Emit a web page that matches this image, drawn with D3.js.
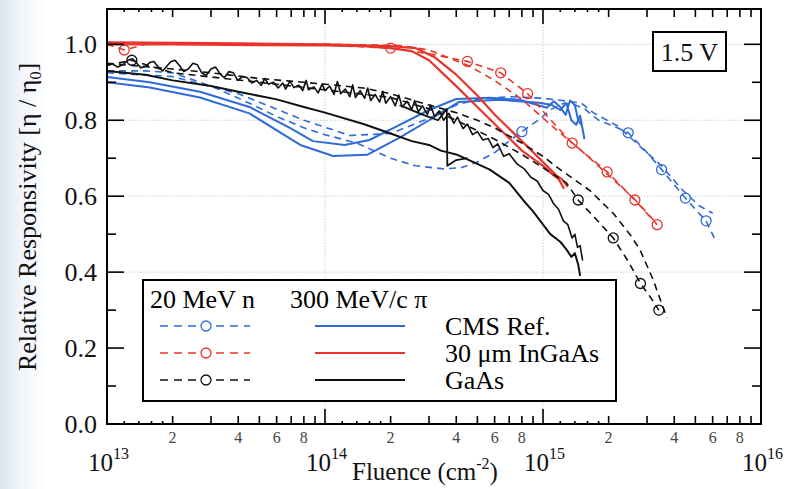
<!DOCTYPE html>
<html><head><meta charset="utf-8">
<script src="https://cdn.jsdelivr.net/npm/d3@7"></script>
<style>body{margin:0;background:#fff}svg{display:block}text{font-family:"Liberation Serif","DejaVu Serif",serif}</style>
</head><body>
<svg id="c" width="790" height="489"></svg>
<script>
// ---------------- DATA ----------------
const xDecades = [1e13, 1e14, 1e15, 1e16];
const xDecadeLabels = ["13", "14", "15", "16"];
const xMinorLabelMults = [2, 4, 6, 8];
const yMajorTicks = [0, 0.2, 0.4, 0.6, 0.8, 1.0];
const yMinorTicks = [0.1, 0.3, 0.5, 0.7, 0.9];
const yGrid = [0.4, 0.6, 0.8, 1.0];
const xGrid = [1e14, 1e15];

// 300 MeV/c pi, CMS Ref. (solid blue)
const blueSolidA = [[1e13,0.914],[1.57e13,0.900],[2.67e13,0.875],[4.5e13,0.835],[6.9e13,0.780],[8.8e13,0.745],[1.23e14,0.735],[1.6e14,0.748],[2.2e14,0.788],[3.0e14,0.827],[4.0e14,0.856],[5.7e14,0.859],[7.8e14,0.854],[1.04e15,0.833],[1.12e15,0.850],[1.2e15,0.835],[1.27e15,0.814],[1.33e15,0.852],[1.4e15,0.840],[1.45e15,0.800],[1.5e15,0.788]];
const blueSolidB = [[1e13,0.900],[1.57e13,0.886],[2.67e13,0.860],[4.5e13,0.818],[7.7e13,0.735],[1.09e14,0.706],[1.56e14,0.709],[2.2e14,0.754],[3.0e14,0.800],[4.1e14,0.848],[6.3e14,0.854],[9.6e14,0.846],[1.1e15,0.840],[1.2e15,0.827],[1.28e15,0.845],[1.35e15,0.800],[1.42e15,0.788],[1.48e15,0.812],[1.55e15,0.750]];
// 20 MeV n, CMS Ref. (dashed blue)
const blueDashA = [[1e13,0.930],[1.5e13,0.930],[2e13,0.925],[3e13,0.890],[4.5e13,0.845],[6e13,0.810],[8e13,0.780],[1e14,0.762],[1.4e14,0.740],[2e14,0.700],[2.6e14,0.680],[3.5e14,0.672],[4.2e14,0.675],[5e14,0.690],[6e14,0.715],[7e14,0.745],[8e14,0.770],[9.5e14,0.800],[1.1e15,0.830],[1.25e15,0.845],[1.4e15,0.840],[1.55e15,0.830],[1.8e15,0.800],[2.1e15,0.785],[2.46e15,0.767],[3e15,0.715],[3.5e15,0.670],[4e15,0.630],[4.5e15,0.595],[5.1e15,0.560],[5.6e15,0.535],[6.1e15,0.490]];
const blueDashAMarks = [8e14, 2.46e15, 3.5e15, 4.5e15, 5.6e15];
const blueDashB = [[1e13,0.925],[2e13,0.915],[4e13,0.870],[8e13,0.800],[1.3e14,0.760],[2e14,0.765],[3e14,0.805],[4e14,0.840],[5e14,0.855],[7e14,0.862],[1e15,0.858],[1.3e15,0.850],[1.5e15,0.845],[1.7e15,0.820],[2.2e15,0.785],[2.8e15,0.730],[3.5e15,0.680],[4.3e15,0.620],[5.2e15,0.575],[6.0e15,0.555]];

// 300 MeV/c pi, 30 um InGaAs (solid red)
const redSolidA = [[1e13,1.0],[2e13,1.0],[5e13,0.998],[1e14,0.997],[1.5e14,0.995],[2e14,0.990],[2.5e14,0.982],[3e14,0.958],[4e14,0.890],[5e14,0.835],[6e14,0.790],[8e14,0.720],[1e15,0.680],[1.12e15,0.655],[1.18e15,0.645],[1.22e15,0.630],[1.25e15,0.620]];
const redSolidB = [[1e13,1.005],[3e13,1.003],[1e14,1.0],[2e14,0.995],[2.6e14,0.990],[3.2e14,0.965],[4e14,0.920],[5e14,0.865],[6e14,0.815],[8e14,0.745],[1e15,0.690],[1.15e15,0.655],[1.22e15,0.645],[1.3e15,0.625]];
// 20 MeV n, 30 um InGaAs (dashed red)
const redDashA = [[1e13,1.0],[1.2e13,0.985],[1.5e13,1.0],[3e13,1.0],[6e13,1.0],[1e14,0.998],[2e14,0.990],[3e14,0.975],[4.5e14,0.955],[6.4e14,0.925],[8.5e14,0.870],[1.05e15,0.810],[1.36e15,0.740],[1.97e15,0.664],[2.64e15,0.590],[3.34e15,0.525]];
const redDashAMarks = [1.2e13, 2e14, 4.5e14, 6.4e14, 8.5e14, 1.36e15, 1.97e15, 2.64e15, 3.34e15];
const redDashB = [[1e13,1.005],[1e14,1.0],[2.2e14,0.997],[3e14,0.985],[4.5e14,0.945],[6e14,0.905],[8e14,0.855],[1.1e15,0.785],[1.5e15,0.720],[2e15,0.655],[2.6e15,0.595],[3.3e15,0.530]];

// 300 MeV/c pi, GaAs (solid black)
const blackSolidA = [[1.00e13,0.945],[1.06e13,0.948],[1.12e13,0.940],[1.18e13,0.946],[1.25e13,0.958],[1.31e13,0.962],[1.37e13,0.950],[1.43e13,0.938],[1.50e13,0.942],[1.57e13,0.952],[1.64e13,0.955],[1.72e13,0.940],[1.80e13,0.930],[1.88e13,0.942],[1.96e13,0.954],[2.05e13,0.958],[2.15e13,0.944],[2.25e13,0.928],[2.36e13,0.935],[2.48e13,0.950],[2.60e13,0.946],[2.72e13,0.925],[2.85e13,0.918],[3.00e13,0.935],[3.15e13,0.940],[3.30e13,0.922],[3.45e13,0.912],[3.62e13,0.928],[3.80e13,0.925],[3.98e13,0.905],[4.18e13,0.915],[4.40e13,0.912],[4.62e13,0.898],[4.85e13,0.905],[5.10e13,0.892],[5.30e13,0.910],[5.50e13,0.895],[5.80e13,0.900],[6.10e13,0.885],[6.40e13,0.898],[6.60e13,0.882],[6.90e13,0.903],[7.20e13,0.886],[7.60e13,0.892],[7.90e13,0.878],[8.20e13,0.905],[8.40e13,0.880],[8.90e13,0.888],[9.30e13,0.872],[9.70e13,0.895],[1.00e14,0.878],[1.05e14,0.890],[1.10e14,0.868],[1.14e14,0.902],[1.18e14,0.870],[1.24e14,0.882],[1.30e14,0.862],[1.34e14,0.893],[1.38e14,0.860],[1.45e14,0.878],[1.52e14,0.858],[1.57e14,0.885],[1.62e14,0.852],[1.70e14,0.868],[1.78e14,0.848],[1.84e14,0.876],[1.90e14,0.845],[2.00e14,0.862],[2.10e14,0.838],[2.18e14,0.866],[2.26e14,0.835],[2.38e14,0.850],[2.50e14,0.828],[2.58e14,0.852],[2.68e14,0.822],[2.80e14,0.838],[2.95e14,0.815],[3.05e14,0.840],[3.18e14,0.810],[3.35e14,0.825],[3.50e14,0.800],[3.70e14,0.818],[3.90e14,0.792],[4.05e14,0.808],[4.30e14,0.778],[4.50e14,0.790],[4.75e14,0.762],[5.00e14,0.770],[5.30e14,0.748],[5.60e14,0.752],[5.90e14,0.728],[6.20e14,0.738],[6.60e14,0.705],[7.00e14,0.712],[7.60e14,0.685],[8.20e14,0.672],[8.80e14,0.650],[9.40e14,0.640],[1.00e15,0.615],[1.06e15,0.605],[1.12e15,0.580],[1.18e15,0.565],[1.24e15,0.535],[1.30e15,0.525],[1.36e15,0.490],[1.40e15,0.500],[1.44e15,0.465],[1.48e15,0.470],[1.52e15,0.430]];
const blackSolidB = [[1e13,0.930],[1.5e13,0.920],[2e13,0.905],[3e13,0.890],[4e13,0.875],[6e13,0.855],[8e13,0.835],[1e14,0.820],[1.5e14,0.790],[2e14,0.765],[2.5e14,0.745],[3e14,0.735],[3.4e14,0.720],[4e14,0.710],[5e14,0.685],[5.7e14,0.670],[7e14,0.635],[8.1e14,0.590],[9e14,0.560],[1.08e15,0.500],[1.2e15,0.480],[1.28e15,0.460],[1.35e15,0.440],[1.4e15,0.450],[1.45e15,0.420],[1.48e15,0.390]];
const blackSolidC = [[2.2e14,0.840],[2.8e14,0.815],[3.3e14,0.800],[3.62e14,0.830],[3.64e14,0.680],[4e14,0.695],[4.5e14,0.700]];
// 20 MeV n, GaAs (dashed black)
const blackDashA = [[1e13,0.950],[2e13,0.935],[3e13,0.925],[5e13,0.910],[8e13,0.900],[1e14,0.895],[1.5e14,0.885],[2e14,0.870],[3e14,0.840],[4e14,0.820],[5e14,0.800],[6e14,0.780],[8e14,0.740],[1e15,0.705],[1.2e15,0.670],[1.64e15,0.615],[2.1e15,0.555],[2.5e15,0.500],[2.78e15,0.460],[3.2e15,0.380],[3.7e15,0.280]];
const blackDashB = [[1e13,0.945],[1.3e13,0.958],[2e13,0.925],[5e13,0.900],[1e14,0.880],[2e14,0.860],[3e14,0.830],[4e14,0.800],[6e14,0.750],[8e14,0.710],[1e15,0.675],[1.28e15,0.635],[1.45e15,0.590],[1.75e15,0.540],[2.1e15,0.490],[2.45e15,0.430],[2.8e15,0.370],[3.1e15,0.335],[3.4e15,0.300]];
const blackDashBMarks = [1.3e13, 1.45e15, 2.1e15, 2.8e15, 3.4e15];

const legendHeaders = ["20 MeV n", "300 MeV/c \u03c0"];
const legendNames = ["CMS Ref.", "30 \u03bcm InGaAs", "GaAs"];
const voltageLabel = "1.5 V";

// ---------------- CHART ----------------
const BLUE = "#2f6bd8", RED = "#e8342a", BLACK = "#111";
const FONT = "Liberation Serif, DejaVu Serif, serif";
const svg = d3.select("#c");
const x = d3.scaleLog().domain([1e13, 1e16]).range([107, 761]);
const y = d3.scaleLinear().domain([0, 1.093]).range([424, 9]);

const defs = svg.append("defs");
const g = defs.append("linearGradient").attr("id", "lg").attr("x1", 0).attr("x2", 1);
g.append("stop").attr("offset", 0).attr("stop-color", "#dbe4f1");
g.append("stop").attr("offset", 0.35).attr("stop-color", "#eef2f8");
g.append("stop").attr("offset", 1).attr("stop-color", "#ffffff");
svg.append("rect").attr("x", 0).attr("y", 0).attr("width", 46).attr("height", 489).attr("fill", "url(#lg)");
defs.append("clipPath").attr("id", "clip").append("rect")
  .attr("x", 107).attr("y", 9).attr("width", 654).attr("height", 415);

// grid
const grid = svg.append("g").attr("stroke", "#c9d0e4").attr("stroke-width", 1).attr("stroke-dasharray", "1.5,1.5");
yGrid.forEach(v => grid.append("line").attr("x1", x(1e13)).attr("x2", x(1e16)).attr("y1", y(v)).attr("y2", y(v)));
xGrid.forEach(v => grid.append("line").attr("x1", x(v)).attr("x2", x(v)).attr("y1", y(0)).attr("y2", y(1.093)));

// curves
const line = d3.line().x(d => x(d[0])).y(d => y(d[1]));
const plot = svg.append("g").attr("clip-path", "url(#clip)");
function draw(data, color, dashed, width, marks) {
  plot.append("path").datum(data).attr("d", line).attr("fill", "none")
    .attr("stroke", color).attr("stroke-width", width)
    .attr("stroke-linejoin", "round")
    .attr("stroke-dasharray", dashed ? "7,5" : null);
  if (marks) {
    plot.selectAll(null).data(data.filter(d => marks.includes(d[0]))).enter().append("circle")
      .attr("cx", d => x(d[0])).attr("cy", d => y(d[1])).attr("r", 5)
      .attr("fill", "none").attr("stroke", color).attr("stroke-width", 1.3);
  }
}
draw(blueDashB, BLUE, true, 1.6);
draw(blueDashA, BLUE, true, 1.6, blueDashAMarks);
draw(blueSolidA, BLUE, false, 2);
draw(blueSolidB, BLUE, false, 2);
draw(redDashB, RED, true, 1.6);
draw(redDashA, RED, true, 1.6, redDashAMarks);
draw(redSolidA, RED, false, 2.2);
draw(redSolidB, RED, false, 2.2);
draw(blackDashA, BLACK, true, 1.6);
draw(blackDashB, BLACK, true, 1.6, blackDashBMarks);
draw(blackSolidB, BLACK, false, 2);
draw(blackSolidC, BLACK, false, 1.8);
draw(blackSolidA, BLACK, false, 1.6);

// frame
svg.append("rect").attr("x", 107).attr("y", 9).attr("width", 654).attr("height", 415)
  .attr("fill", "none").attr("stroke", "#000").attr("stroke-width", 2);

// ticks
const tk = svg.append("g").attr("stroke", "#000").attr("stroke-width", 1.6);
const yb = y(0), yt = y(1.093), xl = x(1e13), xr = x(1e16);
xDecades.forEach((d, i) => {
  tk.append("line").attr("x1", x(d)).attr("x2", x(d)).attr("y1", yb).attr("y2", yb - 15);
  tk.append("line").attr("x1", x(d)).attr("x2", x(d)).attr("y1", yt).attr("y2", yt + 15);
  if (i < 3) {
    [1.2, 1.4, 1.6, 1.8].forEach(m => {
      tk.append("line").attr("x1", x(d * m)).attr("x2", x(d * m)).attr("y1", yb).attr("y2", yb - 3);
      tk.append("line").attr("x1", x(d * m)).attr("x2", x(d * m)).attr("y1", yt).attr("y2", yt + 3);
    });
    [2, 3, 4, 5, 6, 7, 8, 9].forEach(m => {
      tk.append("line").attr("x1", x(d * m)).attr("x2", x(d * m)).attr("y1", yb).attr("y2", yb - 8);
      tk.append("line").attr("x1", x(d * m)).attr("x2", x(d * m)).attr("y1", yt).attr("y2", yt + 8);
    });
  }
});
yMajorTicks.forEach(v => {
  tk.append("line").attr("x1", xl).attr("x2", xl + 17).attr("y1", y(v)).attr("y2", y(v));
  tk.append("line").attr("x1", xr).attr("x2", xr - 17).attr("y1", y(v)).attr("y2", y(v));
});
yMinorTicks.forEach(v => {
  tk.append("line").attr("x1", xl).attr("x2", xl + 9).attr("y1", y(v)).attr("y2", y(v));
  tk.append("line").attr("x1", xr).attr("x2", xr - 9).attr("y1", y(v)).attr("y2", y(v));
});

// 1.5 V box
svg.append("rect").attr("x", 653).attr("y", 32).attr("width", 73).attr("height", 39)
  .attr("fill", "#fff").attr("stroke", "#000").attr("stroke-width", 2);

// labels
const txt = svg.append("g").attr("font-family", FONT).attr("fill", "#111");
txt.append("text").attr("x", 689.5).attr("y", 61).attr("text-anchor", "middle")
  .attr("font-size", 26).text(voltageLabel);
yMajorTicks.forEach(v => {
  txt.append("text").attr("x", xl - 10).attr("y", y(v) + 9).attr("text-anchor", "end")
    .attr("font-size", 26).text(d3.format(".1f")(v));
});
xDecades.slice(0, 3).forEach(d => {
  xMinorLabelMults.forEach(m => {
    txt.append("text").attr("x", x(d * m)).attr("y", 443).attr("text-anchor", "middle")
      .attr("font-size", 16).attr("fill", "#444").text(m);
  });
});
xDecades.forEach((d, i) => {
  const t = txt.append("text").attr("x", x(d) - 19).attr("y", 471).attr("font-size", 25);
  t.append("tspan").text("10");
  t.append("tspan").attr("font-size", 16).attr("dy", -12).text(xDecadeLabels[i]);
});
const xt = txt.append("text").attr("x", 352).attr("y", 480).attr("font-size", 25);
xt.append("tspan").text("Fluence (cm");
xt.append("tspan").attr("font-size", 16).attr("dy", -11).text("-2");
xt.append("tspan").attr("dy", 11).text(")");
const yt2 = txt.append("text").attr("transform", "translate(36,217) rotate(-90)")
  .attr("text-anchor", "middle").attr("font-size", 26);
yt2.append("tspan").text("Relative Responsivity [\u03b7 / \u03b7");
yt2.append("tspan").attr("font-size", 16).attr("dy", 5).text("0");
yt2.append("tspan").attr("dy", -5).text("]");

// legend
const lg = svg.append("g");
lg.append("rect").attr("x", 143).attr("y", 280).attr("width", 473).attr("height", 121)
  .attr("fill", "#fff").attr("stroke", "#000").attr("stroke-width", 2);
lg.append("text").attr("x", 150).attr("y", 308).attr("font-family", FONT).attr("font-size", 26).text(legendHeaders[0]);
lg.append("text").attr("x", 290).attr("y", 308).attr("font-family", FONT).attr("font-size", 26).text(legendHeaders[1]);
const lcolors = [BLUE, RED, BLACK];
legendNames.forEach((n, i) => {
  const ly = 326 + i * 27;
  lg.append("line").attr("x1", 160).attr("x2", 250).attr("y1", ly).attr("y2", ly)
    .attr("stroke", lcolors[i]).attr("stroke-width", 1.6).attr("stroke-dasharray", "8,6");
  lg.append("circle").attr("cx", 206).attr("cy", ly).attr("r", 5).attr("fill", "#fff")
    .attr("stroke", lcolors[i]).attr("stroke-width", 1.3);
  lg.append("line").attr("x1", 315).attr("x2", 405).attr("y1", ly).attr("y2", ly)
    .attr("stroke", lcolors[i]).attr("stroke-width", 2);
  lg.append("text").attr("x", 445).attr("y", ly + 9).attr("font-family", FONT).attr("font-size", 26).text(n);
});
</script>
</body></html>
